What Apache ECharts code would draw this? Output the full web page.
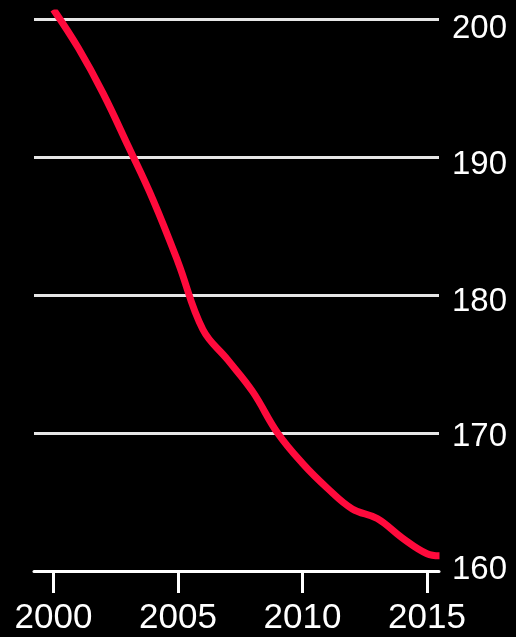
<!DOCTYPE html>
<html>
<head>
<meta charset="utf-8">
<script src="https://cdn.jsdelivr.net/npm/echarts@6/dist/echarts.min.js"></script>
<style>
  html, body { margin: 0; padding: 0; background: #000; }
  #chart { width: 516px; height: 637px; }
</style>
</head>
<body>
<div id="chart"></div>
<script>
// 数据放在最上面，方便修改
const years = [2000, 2001, 2002, 2003, 2004, 2005, 2006, 2007, 2008, 2009, 2010, 2011, 2012, 2013, 2014, 2015, 2015.5];
const values = [200.7, 197.9, 194.6, 190.8, 186.9, 182.4, 177.5, 175.3, 173.0, 170.0, 167.8, 166.0, 164.5, 163.8, 162.4, 161.25, 161.1];
const xTicks = [2000, 2005, 2010, 2015];
const yTicks = [160, 170, 180, 190, 200];

let seriesData = [];
for (let i = 0; i < years.length; i++) {
    seriesData.push([years[i], values[i]]);
}

// y轴标签上下位置略有不同，用rich来微调
const labelShift = {
    200: { padding: [20, 0, 0, 0] },
    190: { padding: [16, 0, 0, 0] },
    180: { padding: [14, 0, 0, 0] },
    170: { padding: [7, 0, 0, 0] },
    160: { padding: [0, 0, 3, 0] }
};
let rich = {};
yTicks.forEach(function (v) {
    rich['s' + v] = Object.assign({
        color: '#fff',
        fontSize: 33,
        fontFamily: 'Liberation Sans, Arial, sans-serif'
    }, labelShift[v]);
});

var myChart = echarts.init(document.getElementById('chart'));
var option = {
    backgroundColor: '#000',
    animation: false,
    grid: { left: 34, right: 77, top: 13, bottom: 66 },
    xAxis: {
        type: 'value',
        min: 1999.22,
        max: 2015.48,
        splitLine: { show: false },
        axisLine: { show: true, lineStyle: { color: '#fff', width: 3 } },
        axisTick: {
            show: true,
            customValues: xTicks,
            length: 22,
            lineStyle: { color: '#fff', width: 3 }
        },
        axisLabel: {
            customValues: xTicks,
            margin: 30,
            color: '#fff',
            fontSize: 35,
            fontFamily: 'Liberation Sans, Arial, sans-serif',
            formatter: function (v) { return String(v); }
        }
    },
    yAxis: {
        type: 'value',
        position: 'right',
        min: 160,
        max: 200.44,
        z: 3,
        axisLine: { show: false },
        axisTick: { show: false, customValues: yTicks },
        splitLine: { show: true, lineStyle: { color: 'rgba(255,255,255,0.9)', width: 3 } },
        axisLabel: {
            customValues: yTicks,
            margin: 13,
            formatter: function (v) { return '{s' + v + '|' + v + '}'; },
            rich: rich
        }
    },
    series: [
        {
            type: 'line',
            data: seriesData,
            smooth: 0.4,
            showSymbol: false,
            lineStyle: { color: '#ff0a3c', width: 7 }
        }
    ]
};
myChart.setOption(option);
</script>
</body>
</html>
